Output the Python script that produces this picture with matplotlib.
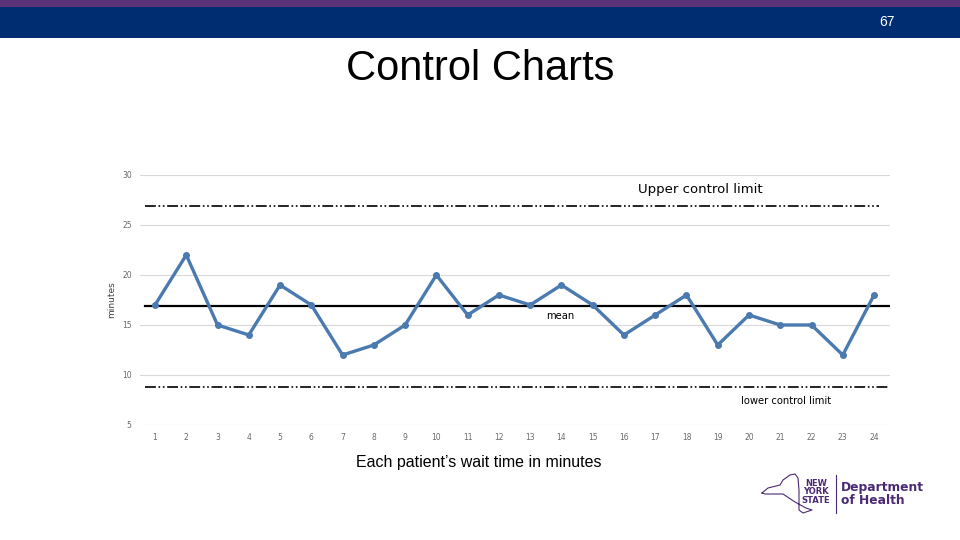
import matplotlib
matplotlib.use("Agg")
import matplotlib.pyplot as plt
from matplotlib.patches import Rectangle

# data
patients = list(range(1, 25))
wait_minutes = [17, 22, 15, 14, 19, 17, 12, 13, 15, 20, 16, 18,
                17, 19, 17, 14, 16, 18, 13, 16, 15, 15, 12, 18]
mean_value = 16.9
upper_limit = 26.9
lower_limit = 8.8
y_ticks = [5, 10, 15, 20, 25, 30]

fig = plt.figure(figsize=(9.6, 5.4), dpi=100)
fig.patch.set_facecolor("white")

# header band
fig.patches.append(Rectangle((0, 1 - 7 / 540), 1, 7 / 540, transform=fig.transFigure,
                             facecolor="#5c3278", edgecolor="none"))
fig.patches.append(Rectangle((0, 1 - 38 / 540), 1, 31 / 540, transform=fig.transFigure,
                             facecolor="#002d72", edgecolor="none"))
fig.text(887 / 960, 1 - 22 / 540, "67", color="white", fontsize=10,
         ha="center", va="center", family="Liberation Sans")

fig.text(480 / 960, 1 - 69 / 540, "Control Charts", fontsize=30, ha="center", va="center",
         family="Liberation Sans", color="black")

ax = fig.add_axes([140 / 960, (540 - 425) / 540, 750 / 960, 250 / 540])
ax.set_xlim(0.52, 24.51)
ax.set_ylim(5, 30)

ax.plot(patients, wait_minutes, color="#4a7ab0", linewidth=2.4, marker="o",
        markersize=4, zorder=5)

ccl_dash = (6.5, 1.6, 1.0, 1.6, 1.0, 1.6)
ax.axhline(mean_value, xmin=0.007, xmax=1.0, color="black", linewidth=1.6, zorder=4)
ax.axhline(upper_limit, xmin=0.007, xmax=0.985, color="black", linewidth=1.2,
           dashes=ccl_dash, zorder=4)
ax.axhline(lower_limit, xmin=0.007, xmax=0.997, color="black", linewidth=1.2,
           dashes=ccl_dash, zorder=4)

ax.text(18.43, 28.5, "Upper control limit", fontsize=9.5, ha="center", va="center",
        family="DejaVu Sans")
ax.text(13.95, 15.9, "mean", fontsize=7.2, ha="center", va="center")
ax.text(21.18, 7.4, "lower control limit", fontsize=7.2, ha="center", va="center")

ax.set_yticks(y_ticks)
ax.set_xticks(patients)
ax.grid(axis="y", color="#d9d9d9", linewidth=0.8)
ax.set_axisbelow(True)
for s in ax.spines.values():
    s.set_visible(False)
ax.tick_params(length=0, labelsize=5.5, labelcolor="#6a6a6a", pad=6)
ax.set_ylabel("minutes", fontsize=6.5, color="#404040", labelpad=4)

fig.text(479 / 960, 1 - 463 / 540, "Each patient\u2019s wait time in minutes", fontsize=11.5,
         ha="center", va="center", family="Liberation Sans")

# logo
purple = "#4b2a75"
fig.text(816 / 960, 1 - 492 / 540, "NEW\nYORK\nSTATE", fontsize=6, fontweight="bold",
         color=purple, ha="center", va="center", linespacing=0.95, family="DejaVu Sans")
fig.add_artist(plt.Line2D([836 / 960, 836 / 960], [1 - 475 / 540, 1 - 513 / 540],
                          transform=fig.transFigure, color=purple, linewidth=0.8))
fig.text(841 / 960, 1 - 494 / 540, "Department\nof Health", fontsize=8.8, fontweight="bold",
         color=purple, ha="left", va="center", linespacing=1.0, family="DejaVu Sans")
outline_x = [762, 768, 780, 783, 790, 795, 798, 799, 799, 803, 812, 806, 795, 783, 765, 762]
outline_y = [493, 488, 485, 480, 475, 474, 478, 490, 510, 513, 510, 508, 502, 494, 494, 493]
fig.add_artist(plt.Line2D([x / 960 for x in outline_x], [1 - y / 540 for y in outline_y],
                          transform=fig.transFigure, color=purple, linewidth=0.8))

fig.savefig("out.png", dpi=100)
